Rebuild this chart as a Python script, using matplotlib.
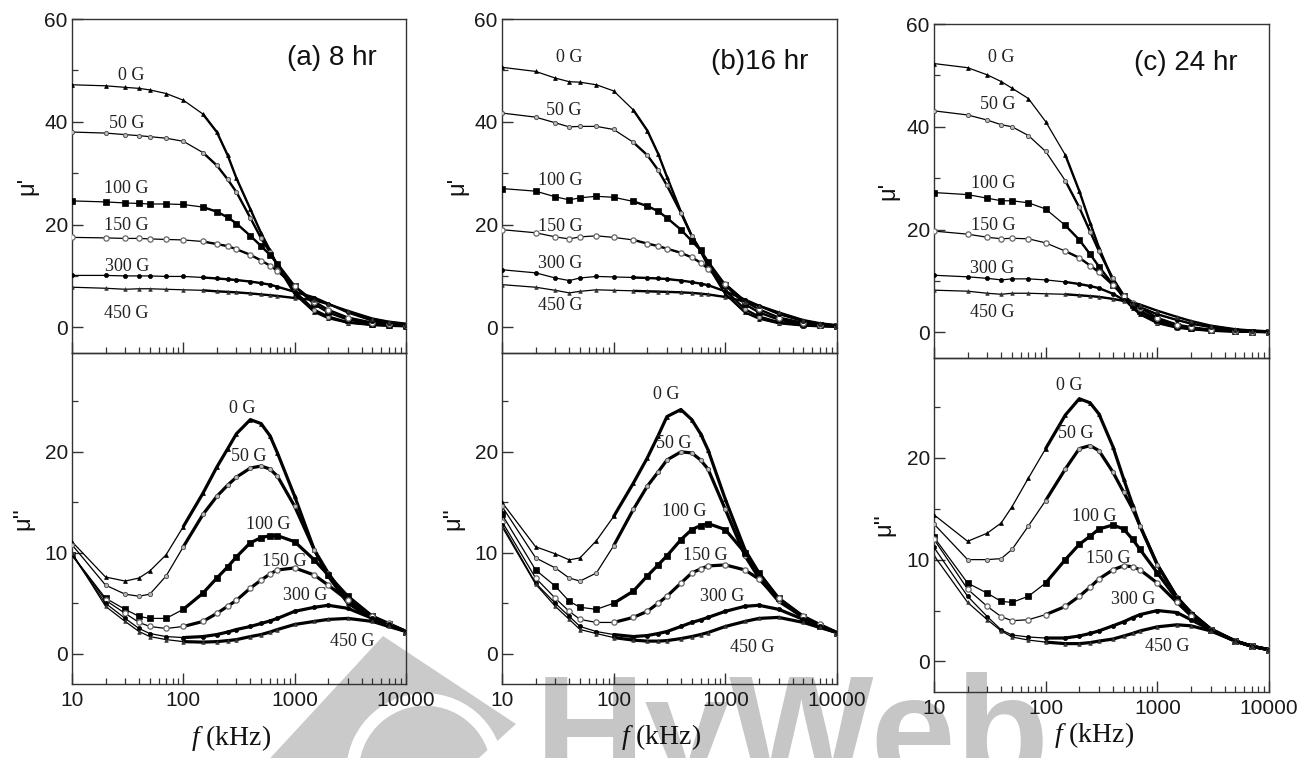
import matplotlib
matplotlib.use('Agg')
import matplotlib.pyplot as plt
from matplotlib.ticker import MultipleLocator, LogLocator, NullFormatter, FixedLocator, FixedFormatter
import matplotlib.patches as mpatches

plt.rcParams['font.family'] = ['Liberation Sans', 'DejaVu Sans']
plt.rcParams['mathtext.fontset'] = 'custom'
plt.rcParams['mathtext.it'] = 'Liberation Serif:italic'
plt.rcParams['mathtext.rm'] = 'Liberation Serif'

# ---------------- data ----------------
freq = [10, 20, 30, 40, 50, 70, 100, 150, 200, 250, 300, 400, 500, 600, 700, 1000,
        1500, 2000, 3000, 5000, 7000, 10000]
fields = ['0 G', '50 G', '100 G', '150 G', '300 G', '450 G']
panel_titles = ['(a) 8 hr', '(b)16 hr', '(c) 24 hr']
xtick_vals = [10, 100, 1000, 10000]
xtick_labels = ['10', '100', '1000', '10000']

# (a) 8 hr : real part mu'
a_re_0 = [47.2, 47.0, 46.7, 46.5, 46.2, 45.5, 44.2, 41.5, 38.0, 33.5, 29.0, 23.0, 18.3, 15.0, 12.0, 6.5, 3.0, 1.8, 0.9, 0.45, 0.3, 0.2]
a_re_50 = [38.0, 37.8, 37.5, 37.3, 37.1, 36.8, 36.2, 34.0, 31.5, 28.8, 26.3, 21.3, 17.3, 14.6, 12.0, 7.0, 3.4, 2.1, 1.0, 0.5, 0.35, 0.25]
a_re_100 = [24.6, 24.4, 24.2, 24.1, 24.0, 24.0, 23.9, 23.4, 22.5, 21.4, 20.2, 17.8, 15.8, 14.1, 12.4, 8.0, 4.5, 2.9, 1.5, 0.7, 0.45, 0.3]
a_re_150 = [17.5, 17.4, 17.3, 17.3, 17.2, 17.1, 17.0, 16.7, 16.2, 15.8, 15.2, 14.1, 13.0, 12.0, 11.0, 8.0, 5.0, 3.4, 1.9, 0.9, 0.6, 0.4]
a_re_300 = [10.1, 10.1, 10.0, 10.0, 10.0, 9.9, 9.9, 9.7, 9.5, 9.35, 9.2, 8.9, 8.6, 8.3, 7.9, 6.9, 5.8, 4.6, 2.9, 1.3, 0.85, 0.5]
a_re_450 = [7.8, 7.6, 7.4, 7.5, 7.5, 7.4, 7.3, 7.2, 7.0, 6.9, 6.8, 6.6, 6.4, 6.25, 6.1, 5.7, 5.3, 4.5, 3.2, 1.7, 1.1, 0.7]
# (a) 8 hr : imaginary part mu''
a_im_0 = [11.1, 7.6, 7.2, 7.5, 8.2, 9.8, 12.6, 15.9, 18.5, 20.3, 21.8, 23.2, 22.8, 21.6, 19.9, 15.6, 10.3, 7.7, 5.0, 3.5, 2.9, 2.2]
a_im_50 = [10.8, 6.8, 5.9, 5.7, 5.9, 7.7, 10.6, 13.8, 15.6, 16.7, 17.5, 18.4, 18.6, 18.3, 17.6, 14.6, 10.3, 8.0, 5.3, 3.5, 2.9, 2.2]
a_im_100 = [9.8, 5.5, 4.4, 3.7, 3.5, 3.5, 4.4, 6.0, 7.5, 8.6, 9.6, 11.0, 11.5, 11.7, 11.7, 11.1, 9.3, 7.8, 5.7, 3.7, 2.9, 2.2]
a_im_150 = [9.8, 5.3, 4.0, 3.1, 2.7, 2.5, 2.7, 3.2, 4.0, 4.7, 5.3, 6.5, 7.3, 7.9, 8.3, 8.5, 7.8, 6.8, 5.3, 3.7, 3.0, 2.2]
a_im_300 = [9.8, 5.0, 3.5, 2.5, 2.0, 1.7, 1.6, 1.7, 1.9, 2.15, 2.4, 2.7, 3.0, 3.25, 3.5, 4.2, 4.6, 4.8, 4.5, 3.5, 2.9, 2.2]
a_im_450 = [10.0, 4.7, 3.2, 2.2, 1.7, 1.4, 1.2, 1.15, 1.2, 1.3, 1.4, 1.7, 1.9, 2.15, 2.4, 2.9, 3.2, 3.4, 3.5, 3.2, 2.7, 2.2]

# (b) 16 hr
b_re_0 = [50.6, 49.8, 48.5, 47.8, 47.7, 47.2, 46.0, 42.3, 38.3, 33.8, 29.3, 22.5, 17.8, 14.8, 12.0, 6.5, 2.9, 1.7, 0.8, 0.35, 0.2, 0.1]
b_re_50 = [41.7, 40.9, 39.8, 39.0, 39.1, 39.1, 38.5, 36.0, 33.5, 30.6, 27.6, 22.3, 17.8, 15.0, 12.5, 7.2, 3.5, 2.1, 1.0, 0.45, 0.25, 0.15]
b_re_100 = [27.0, 26.5, 25.4, 24.8, 25.2, 25.5, 25.3, 24.5, 23.6, 22.6, 21.3, 19.0, 16.8, 15.0, 12.8, 8.2, 4.5, 2.9, 1.5, 0.65, 0.4, 0.2]
b_re_150 = [19.0, 18.4, 17.6, 17.2, 17.6, 17.8, 17.5, 17.0, 16.3, 15.8, 15.3, 14.5, 13.6, 12.6, 11.4, 8.4, 5.1, 3.5, 1.9, 0.85, 0.5, 0.25]
b_re_300 = [11.2, 10.6, 9.6, 9.1, 9.6, 9.9, 9.8, 9.7, 9.6, 9.5, 9.4, 9.1, 8.8, 8.5, 8.2, 7.0, 5.4, 4.2, 2.6, 1.2, 0.7, 0.35]
b_re_450 = [8.3, 7.8, 7.2, 6.7, 7.0, 7.3, 7.2, 7.1, 7.0, 6.95, 6.9, 6.8, 6.7, 6.55, 6.4, 5.9, 5.0, 4.2, 2.9, 1.4, 0.8, 0.4]
b_im_0 = [15.0, 10.6, 9.9, 9.3, 9.5, 11.2, 13.6, 16.9, 19.4, 21.6, 23.5, 24.2, 23.2, 21.8, 20.2, 15.3, 10.3, 8.0, 5.4, 3.6, 2.7, 2.1]
b_im_50 = [14.6, 9.5, 8.5, 7.5, 7.2, 8.0, 10.7, 14.3, 16.6, 18.0, 19.2, 20.0, 19.9, 19.2, 18.3, 14.3, 9.7, 7.5, 5.2, 3.6, 2.7, 2.1]
b_im_100 = [13.8, 8.3, 6.7, 5.2, 4.6, 4.4, 5.0, 6.2, 7.7, 8.8, 9.7, 11.3, 12.3, 12.7, 12.9, 12.3, 10.0, 8.0, 5.5, 3.6, 2.7, 2.1]
b_im_150 = [13.1, 7.5, 5.5, 4.2, 3.4, 3.1, 3.1, 3.6, 4.2, 5.0, 5.7, 7.0, 8.0, 8.4, 8.7, 8.8, 8.3, 7.4, 5.5, 3.7, 2.9, 2.1]
b_im_300 = [12.8, 7.0, 5.0, 3.7, 2.7, 2.2, 1.9, 1.7, 1.8, 2.0, 2.2, 2.7, 3.1, 3.35, 3.6, 4.2, 4.7, 4.8, 4.4, 3.4, 2.7, 2.1]
b_im_450 = [12.6, 6.9, 4.7, 3.4, 2.4, 2.0, 1.6, 1.35, 1.25, 1.25, 1.3, 1.5, 1.7, 1.9, 2.1, 2.7, 3.2, 3.5, 3.6, 3.1, 2.6, 2.1]

# (c) 24 hr
c_re_0 = [52.3, 51.5, 50.1, 48.8, 47.5, 45.5, 41.0, 34.5, 27.5, 21.3, 16.5, 10.0, 6.5, 4.8, 3.5, 1.8, 0.9, 0.6, 0.3, 0.15, 0.1, 0.05]
c_re_50 = [43.1, 42.3, 41.3, 40.4, 40.0, 38.3, 35.2, 29.5, 24.3, 19.6, 15.8, 10.5, 7.2, 5.4, 4.0, 2.1, 1.1, 0.7, 0.35, 0.15, 0.1, 0.05]
c_re_100 = [27.2, 26.8, 26.1, 25.6, 25.6, 25.2, 24.0, 20.8, 18.0, 15.2, 12.8, 9.3, 7.0, 5.4, 4.2, 2.4, 1.3, 0.8, 0.4, 0.2, 0.1, 0.05]
c_re_150 = [19.7, 19.1, 18.5, 18.2, 18.3, 18.2, 17.4, 15.8, 14.5, 13.0, 11.7, 9.2, 7.1, 5.8, 4.8, 2.8, 1.5, 1.0, 0.5, 0.25, 0.15, 0.08]
c_re_300 = [11.1, 10.8, 10.5, 10.2, 10.4, 10.4, 10.2, 9.8, 9.4, 9.0, 8.6, 7.5, 6.3, 5.6, 4.9, 3.5, 2.4, 1.7, 1.0, 0.45, 0.3, 0.15]
c_re_450 = [8.2, 8.0, 7.6, 7.4, 7.6, 7.6, 7.5, 7.4, 7.2, 7.05, 6.9, 6.5, 6.1, 5.8, 5.4, 4.2, 3.0, 2.2, 1.3, 0.6, 0.35, 0.2]
c_im_0 = [14.4, 11.8, 12.6, 13.6, 15.2, 18.0, 20.9, 24.2, 25.8, 25.4, 24.3, 21.1, 17.9, 15.4, 13.3, 9.5, 6.3, 4.8, 3.2, 2.0, 1.5, 1.15]
c_im_50 = [13.5, 10.0, 10.0, 10.1, 11.0, 13.3, 15.8, 18.9, 20.9, 21.2, 20.7, 18.6, 16.6, 15.0, 13.3, 9.5, 6.3, 4.8, 3.2, 2.0, 1.5, 1.15]
c_im_100 = [12.2, 7.7, 6.7, 5.9, 5.8, 6.4, 7.7, 10.0, 11.5, 12.3, 13.0, 13.4, 13.0, 12.0, 11.0, 8.7, 6.1, 4.6, 3.1, 2.0, 1.5, 1.15]
c_im_150 = [12.0, 7.1, 5.4, 4.4, 4.0, 4.1, 4.6, 5.4, 6.4, 7.3, 8.1, 9.0, 9.4, 9.3, 9.0, 7.7, 5.8, 4.5, 3.1, 2.0, 1.5, 1.15]
c_im_300 = [11.2, 6.4, 4.4, 3.1, 2.6, 2.4, 2.3, 2.3, 2.5, 2.75, 3.0, 3.5, 3.9, 4.3, 4.6, 5.0, 4.8, 4.1, 3.1, 2.0, 1.5, 1.15]
c_im_450 = [10.4, 5.8, 4.1, 3.0, 2.4, 2.1, 1.9, 1.75, 1.75, 1.85, 2.0, 2.2, 2.5, 2.75, 3.0, 3.4, 3.6, 3.5, 3.0, 2.0, 1.5, 1.15]

# curve-label positions (freq, value) for each panel
a_re_lab = [(34, 48.2), (31, 38.8), (31, 26.1), (31, 18.9), (31, 11.0), (31, 1.9)]
a_im_lab = [(339, 23.9), (389, 19.1), (580, 12.4), (815, 8.7), (1250, 5.35), (3280, 0.8)]
b_re_lab = [(40, 51.7), (36, 41.4), (33, 27.6), (33, 18.7), (33, 11.5), (33, 3.3)]
b_im_lab = [(296, 25.2), (348, 20.4), (428, 13.6), (667, 9.3), (935, 5.2), (1730, 0.2)]
c_re_lab = [(40, 52.7), (37, 43.4), (34, 28.0), (34, 19.9), (33, 11.6), (33, 3.0)]
c_im_lab = [(162, 26.7), (185, 21.9), (274, 13.8), (366, 9.7), (611, 5.6), (1220, 1.0)]

re_sets = [[a_re_0, a_re_50, a_re_100, a_re_150, a_re_300, a_re_450],
           [b_re_0, b_re_50, b_re_100, b_re_150, b_re_300, b_re_450],
           [c_re_0, c_re_50, c_re_100, c_re_150, c_re_300, c_re_450]]
im_sets = [[a_im_0, a_im_50, a_im_100, a_im_150, a_im_300, a_im_450],
           [b_im_0, b_im_50, b_im_100, b_im_150, b_im_300, b_im_450],
           [c_im_0, c_im_50, c_im_100, c_im_150, c_im_300, c_im_450]]
re_labs = [a_re_lab, b_re_lab, c_re_lab]
im_labs = [a_im_lab, b_im_lab, c_im_lab]

# ---------------- layout (pixels) ----------------
W, H = 1313, 758
fig = plt.figure(figsize=(W / 100, H / 100), dpi=100)


def rect(l, t, r, b):
    return [l / W, 1 - b / H, (r - l) / W, (b - t) / H]


layout = [
    dict(top=(72, 19, 406, 353), bot=(72, 353, 406, 684), title=(0.778, 0.883),
         yl_top=(-0.133, 0.5), yl_bot=(-0.147, 0.5), xl=(0.476, -0.163)),
    dict(top=(502, 19, 837, 353), bot=(502, 353, 837, 684), title=(0.770, 0.871),
         yl_top=(-0.133, 0.5), yl_bot=(-0.146, 0.5), xl=(0.475, -0.160)),
    dict(top=(934, 24, 1269, 358), bot=(934, 358, 1269, 692), title=(0.752, 0.883),
         yl_top=(-0.137, 0.5), yl_bot=(-0.149, 0.5), xl=(0.478, -0.129)),
]

styles = [
    dict(marker='^', ms=2.8, mfc='k', mec='k', mew=0.5),
    dict(marker='o', ms=3.0, mfc='#bbbbbb', mec='#555555', mew=0.7),
    dict(marker='s', ms=3.8, mfc='k', mec='k', mew=0.5),
    dict(marker='o', ms=3.8, mfc='white', mec='#666666', mew=0.9),
    dict(marker='o', ms=3.0, mfc='k', mec='k', mew=0.5),
    dict(marker='^', ms=2.6, mfc='#333333', mec='#333333', mew=0.5),
]

tick_color = '#1a1a1a'
serif = ['Liberation Serif', 'DejaVu Serif']

# ---------------- watermark (behind plots) ----------------
fig.text(535 / W, 1 - 782 / H, 'HyWeb', fontsize=110, fontweight='bold',
         color='#c6c6c6', family=['Liberation Sans', 'DejaVu Sans'],
         ha='left', va='baseline', zorder=-5)
diamond = mpatches.Polygon([(3.83, 7.58 - 6.36), (5.16, 7.58 - 7.24), (4.00, 7.58 - 8.30),
                            (2.50, 7.58 - 7.80)], closed=True,
                           transform=fig.dpi_scale_trans, facecolor='#cacaca',
                           edgecolor='none', zorder=-6)
fig.patches.append(diamond)
swirl = mpatches.Arc((4.25, 7.58 - 7.72), 1.45, 1.45, theta1=15, theta2=200,
                     transform=fig.dpi_scale_trans, color='white', lw=9, zorder=-5.5)
fig.patches.append(swirl)


def style_axis(ax, ymaj, ymin):
    ax.set_facecolor('none')
    ax.set_xscale('log')
    ax.set_xlim(10, 10000)
    ax.xaxis.set_major_locator(FixedLocator(xtick_vals))
    ax.xaxis.set_major_formatter(FixedFormatter(xtick_labels))
    ax.xaxis.set_minor_locator(LogLocator(base=10, subs=range(2, 10)))
    ax.xaxis.set_minor_formatter(NullFormatter())
    ax.yaxis.set_major_locator(MultipleLocator(ymaj))
    ax.yaxis.set_minor_locator(MultipleLocator(ymin))
    ax.tick_params(which='major', direction='in', length=8, width=1.0,
                   color='#333333', labelsize=15, labelcolor=tick_color,
                   top=False, right=False)
    ax.tick_params(which='minor', direction='in', length=4.5, width=0.9,
                   color='#333333', top=False, right=False)
    ax.tick_params(axis='x', which='major', pad=5)
    ax.tick_params(axis='y', which='major', pad=3)
    for s in ax.spines.values():
        s.set_linewidth(1.0)
        s.set_color('#333333')


def draw_curves(ax, sets, thick_from, lw_thick):
    for vals, st in zip(sets, styles):
        ax.plot(freq, vals, color='k', lw=0.9, marker=st['marker'], ms=st['ms'],
                mfc=st['mfc'], mec=st['mec'], mew=st['mew'], zorder=3)
        ax.plot(freq[thick_from:], vals[thick_from:], color='k', lw=lw_thick,
                solid_capstyle='round', solid_joinstyle='round', zorder=2.5)


for i, lay in enumerate(layout):
    axt = fig.add_axes(rect(*lay['top']))
    axb = fig.add_axes(rect(*lay['bot']))

    style_axis(axt, 20, 10)
    axt.set_ylim(-5, 60)
    axt.tick_params(axis='x', labelbottom=False)
    draw_curves(axt, re_sets[i], 7, 1.7)
    for (fx, fy), name in zip(re_labs[i], fields):
        axt.text(fx, fy, name, family=serif, fontsize=13, color='#222222',
                 ha='center', va='baseline', zorder=4)
    axt.text(*lay['title'], panel_titles[i], transform=axt.transAxes, fontsize=20,
             ha='center', va='center', color='#111111')
    axt.text(*lay['yl_top'], "\u03bc'", transform=axt.transAxes, fontsize=17,
             rotation=90, ha='center', va='center', color='#111111')

    style_axis(axb, 10, 5)
    axb.set_ylim(-3, 29.8)
    draw_curves(axb, im_sets[i], 6, 2.3)
    for (fx, fy), name in zip(im_labs[i], fields):
        axb.text(fx, fy, name, family=serif, fontsize=13, color='#222222',
                 ha='center', va='baseline', zorder=4)
    axb.text(*lay['yl_bot'], "\u03bc''", transform=axb.transAxes, fontsize=17,
             rotation=90, ha='center', va='center', color='#111111')
    axb.text(*lay['xl'], r'$f$ (kHz)', transform=axb.transAxes, fontsize=20,
             family=serif, ha='center', va='center', color='#111111')

fig.savefig('out.png', dpi=100)
